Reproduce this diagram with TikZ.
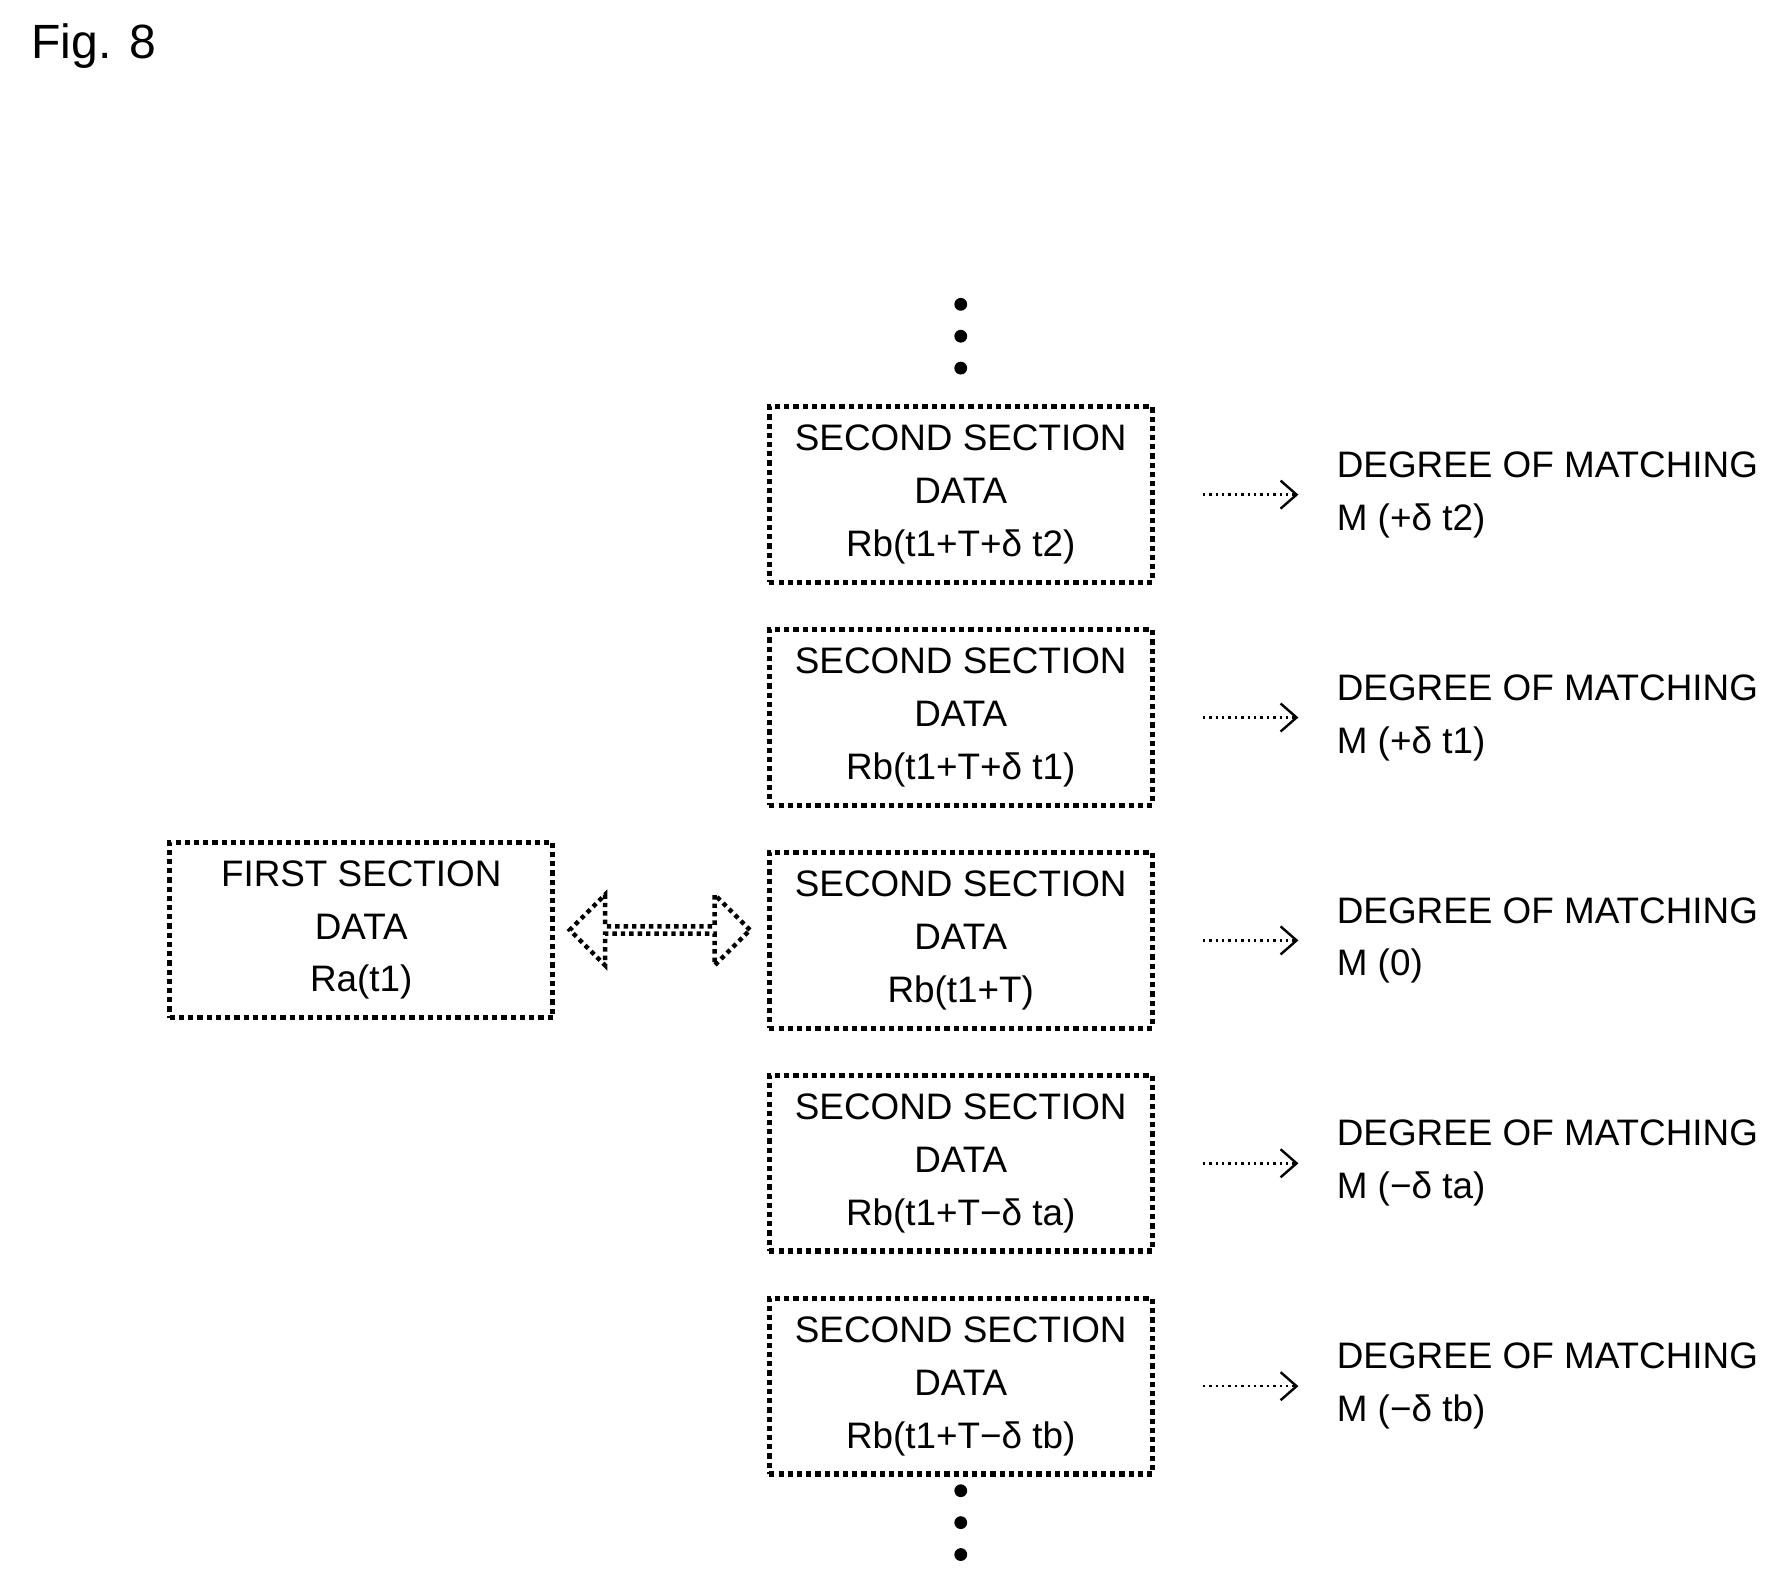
\documentclass[tikz,border=0pt]{standalone}
\usepackage{fontspec}
\setmainfont{Liberation Sans}
\usetikzlibrary{positioning,shapes.arrows,arrows.meta}
\tikzset{
	databox/.style = {draw=black, line width=1.3pt, densely dotted, align=center, minimum width=3.36cm, minimum height=1.54cm, inner sep=0pt, font=\fontsize{9.2}{13.2}\selectfont},
	result/.style = {align=left, anchor=west, inner sep=0pt, font=\fontsize{9.2}{13.2}\selectfont},
	link/.style = {-{Straight Barb[length=4pt,width=7pt]}, densely dotted, line width=0.6pt},
	vdots/.style = {circle, fill=black, inner sep=0pt, minimum size=3.2pt}
}
\begin{document}
\begin{tikzpicture}[node distance=0.37cm]
		\useasboundingbox (0,0) rectangle (15.68,-13.9);
		\node [anchor=west, font=\fontsize{12}{14}\selectfont] (fig) at (0.15,-0.4) {Fig. 8};
		\node [databox] (sa) at (8.43,-4.34) {SECOND SECTION\\DATA\\Rb(t1+T+δ t2)};
		\node [databox, below=of sa] (sb) {SECOND SECTION\\DATA\\Rb(t1+T+δ t1)};
		\node [databox, below=of sb] (sc) {SECOND SECTION\\DATA\\Rb(t1+T)};
		\node [databox, below=of sc] (sd) {SECOND SECTION\\DATA\\Rb(t1+T−δ ta)};
		\node [databox, below=of sd] (se) {SECOND SECTION\\DATA\\Rb(t1+T−δ tb)};
		\node [databox] (first) at (3.17,-8.16) {FIRST SECTION\\DATA\\Ra(t1)};
		\node [double arrow, draw=black, densely dotted, line width=1.1pt, minimum width=0.62cm, minimum height=1.58cm, double arrow head extend=0.17cm, inner sep=0pt] (swap) at (5.79,-8.16) {};
		% matching results
		\foreach \s/\m in {sa/+δ t2, sb/+δ t1, sc/0, sd/−δ ta, se/−δ tb}{
			\coordinate [right=0.42cm of \s.east] (\s from);
			\coordinate [right=1.26cm of \s.east] (\s to);
			\draw [link] (\s from) -- (\s to);
			\node [result, right=0.33cm of \s to] (\s res) {DEGREE OF MATCHING\\M (\m)};
		}
		% dots above and below
		\foreach \i in {0,1,2}{
			\node [vdots] (top\i) at (8.43,-2.67-0.28*\i) {};
			\node [vdots] (bot\i) at (8.43,-13.08-0.28*\i) {};
		}
\end{tikzpicture}
\end{document}
